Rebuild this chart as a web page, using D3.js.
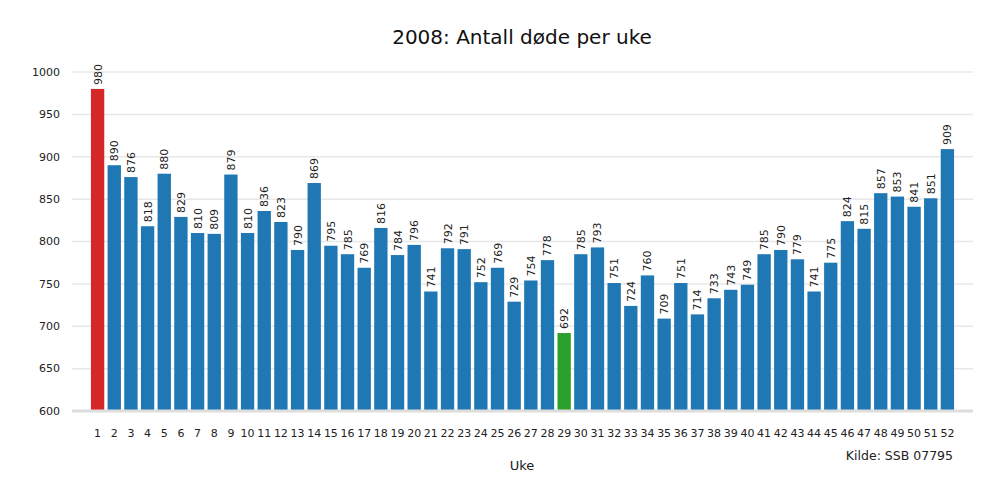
<!DOCTYPE html><html><head><meta charset="utf-8"><script src="https://cdn.jsdelivr.net/npm/d3@7"></script>
<style>body{margin:0;background:#fff}text{font-family:"DejaVu Sans",sans-serif}</style></head><body>
<svg id="c" width="1000" height="500"></svg>
<script>
const weeks=d3.range(1,53);
const values=[980,890,876,818,880,829,810,809,879,810,836,823,790,869,795,785,769,816,784,796,741,792,791,752,769,729,754,778,692,785,793,751,724,760,709,751,714,733,743,749,785,790,779,741,775,824,815,857,853,841,851,909];
const yTicks=[600,650,700,750,800,850,900,950,1000];
const svg=d3.select("#c");
const x=d3.scaleBand().domain(weeks).range([87.6,957.4]).padding(0.2);
const y=d3.scaleLinear().domain([600,1000]).range([411,72]);
svg.append("g").selectAll("line").data(yTicks).join("line")
 .attr("x1",72).attr("x2",973).attr("y1",d=>y(d)).attr("y2",d=>y(d)).attr("stroke","#e8e8e8").attr("stroke-width",1.5);
svg.append("g").selectAll("text").data(yTicks).join("text")
 .attr("x",60).attr("y",d=>y(d)).attr("dy","0.35em").attr("text-anchor","end").attr("font-size",11).attr("fill","#222").text(d=>d);
const maxV=d3.max(values),minV=d3.min(values);
svg.append("g").selectAll("rect").data(values).join("rect")
 .attr("x",(d,i)=>x(weeks[i])).attr("width",x.bandwidth()).attr("y",d=>y(d)).attr("height",d=>411-y(d))
 .attr("fill",d=>d===maxV?"#d62728":d===minV?"#2ca02c":"#1f77b4");
svg.append("g").selectAll("text").data(values).join("text")
 .attr("transform",(d,i)=>`translate(${x(weeks[i])+x.bandwidth()/2+4},${y(d)-4}) rotate(-90)`)
 .attr("font-size",11).attr("fill","#222").text(d=>d);
svg.append("line").attr("x1",72).attr("x2",973).attr("y1",411).attr("y2",411).attr("stroke","#ddd").attr("stroke-width",3);
svg.append("g").selectAll("text").data(weeks).join("text")
 .attr("x",d=>x(d)+x.bandwidth()/2).attr("y",437).attr("text-anchor","middle").attr("font-size",11).attr("fill","#222").text(d=>d);
svg.append("text").attr("x",522).attr("y",470).attr("text-anchor","middle").attr("font-size",13).attr("fill","#222").text("Uke");
svg.append("text").attr("x",953).attr("y",460).attr("text-anchor","end").attr("font-size",12.5).attr("fill","#222").text("Kilde: SSB 07795");
svg.append("text").attr("x",522).attr("y",44).attr("text-anchor","middle").attr("font-size",20).attr("fill","#111").text("2008: Antall døde per uke");
</script></body></html>
